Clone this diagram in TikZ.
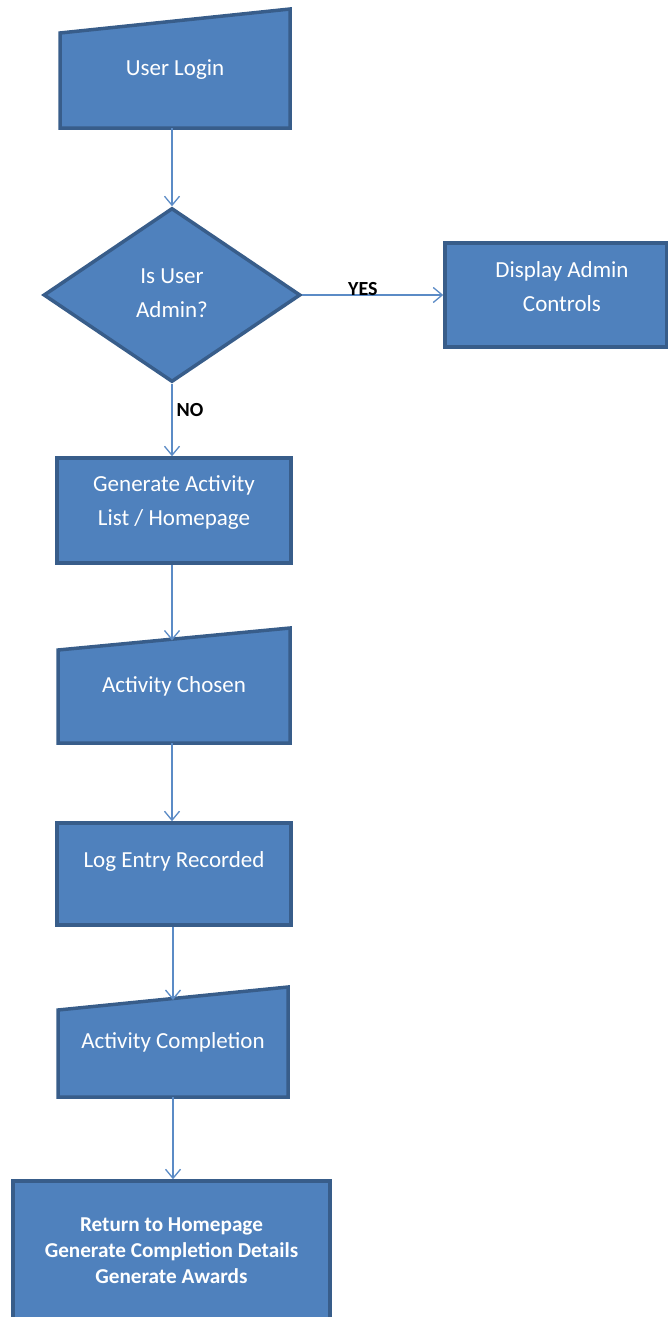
\documentclass[tikz,border=0pt]{standalone}
\usepackage{fontspec}
\setmainfont{Carlito}
\usetikzlibrary{arrows.meta,shapes.geometric,backgrounds}
\definecolor{boxfill}{HTML}{4F81BD}
\definecolor{boxline}{HTML}{385D8A}
\definecolor{flow}{HTML}{5B8BC6}
\newcommand{\textlines}[1]{\begin{tabular}{@{}c@{}}#1\end{tabular}}

\begin{document}
\begin{tikzpicture}[x=1pt,y=-1pt,
  shape base/.style={inner sep=0pt, text=white, font=\fontsize{23}{34}\selectfont},
  stepbox/.style={shape base, rectangle, draw=boxline, fill=boxfill, line width=3.5pt, outer sep=1.75pt},
  inputslot/.style={shape base, rectangle, outer sep=0pt},
  decision/.style={shape base, diamond, draw=boxline, fill=boxfill, line width=3.5pt, outer sep=1.75pt},
  lift/.style 2 args={text height=#1, text depth=#2},
  slanted/.style={draw=boxline, fill=boxfill, line width=3.5pt, line join=miter},
  conn/.style={draw=flow, line width=1.3pt, -{Straight Barb[length=9pt,width=15pt]}},
  lbl/.style={font=\fontsize{20}{22}\selectfont\bfseries, text=black, inner sep=0pt}
]
\useasboundingbox (0,0) rectangle (668,1317);

% process steps
\node[inputslot, minimum width=230pt, minimum height=119pt, lift={27pt}{13pt}] (login) at (175,68.5) {User Login};
\node[decision, minimum width=257pt, minimum height=174pt, lift={24.5pt}{15.5pt}] (dia) at (172,295) {\textlines{Is User\\Admin?}};
\node[stepbox, minimum width=222pt, minimum height=104pt, lift={18.5pt}{21.5pt}] (admin) at (556,295)
  {\begin{tabular}{@{\hspace{12pt}}c@{}}Display Admin\\Controls\end{tabular}};
\node[stepbox, minimum width=234pt, minimum height=105pt, lift={17pt}{23pt}] (genact) at (174,510.5) {\textlines{Generate Activity\\List / Homepage}};
\node[inputslot, minimum width=232pt, minimum height=115pt, lift={27pt}{13pt}] (chosen) at (174,685.5) {Activity Chosen};
\node[stepbox, minimum width=234pt, minimum height=102pt, lift={13pt}{27pt}] (logentry) at (174,874) {Log Entry Recorded};
\node[inputslot, minimum width=230pt, minimum height=110pt, lift={26pt}{14pt}] (complete) at (173,1042) {Activity Completion};
\node[stepbox, minimum width=317pt, minimum height=144pt, lift={24pt}{16pt},
      font=\fontsize{21.2}{26}\selectfont\bfseries] (final) at (171.5,1253)
      {\textlines{Return to Homepage\\Generate Completion Details\\Generate Awards}};

% manual-input shapes behind their text
\begin{scope}[on background layer]
  \path[slanted] (login.south west) -- (login.south east) -- (login.north east)
    -- ([yshift=-24pt]login.north west) -- cycle;
  \path[slanted] (chosen.south west) -- (chosen.south east) -- (chosen.north east)
    -- ([yshift=-22pt]chosen.north west) -- cycle;
  \path[slanted] (complete.south west) -- (complete.south east) -- (complete.north east)
    -- ([yshift=-23pt]complete.north west) -- cycle;
\end{scope}

% connectors
\draw[conn] (login.south -| dia.north) -- (dia.north);
\draw[conn] (dia.east) -- node[lbl, pos=0.43, yshift=6pt] {YES} (admin.west);
\draw[conn] (dia.south) -- node[lbl, pos=0.36, xshift=18pt] {NO} (dia.south |- genact.north);
\draw[conn] (genact.south -| dia.south) -- ([yshift=-12.5pt]chosen.north -| dia.south);
\draw[conn] (chosen.south -| dia.south) -- (logentry.north -| dia.south);
\draw[conn] (logentry.south -| complete.north) -- ([yshift=-13pt]complete.north);
\draw[conn] (complete.south) -- (complete.south |- final.north);
\end{tikzpicture}
\end{document}
